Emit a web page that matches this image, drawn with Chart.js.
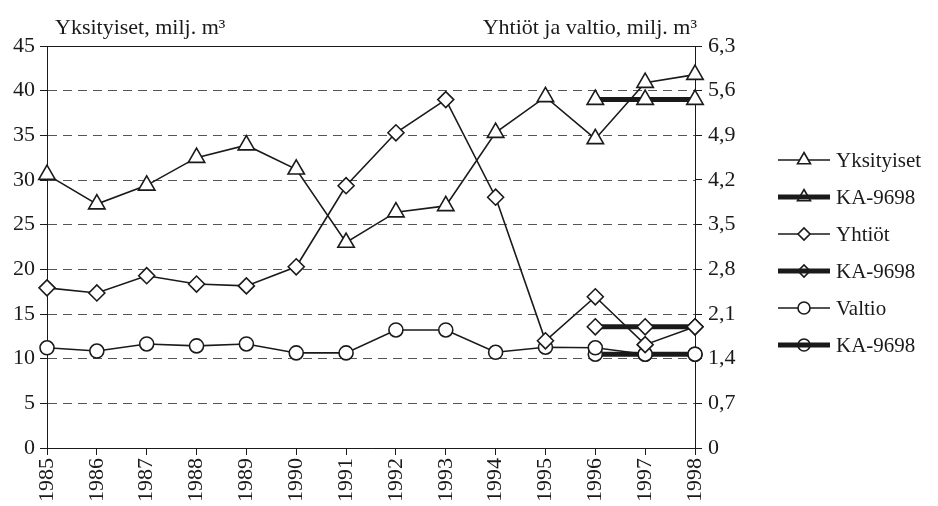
<!DOCTYPE html>
<html>
<head>
<meta charset="utf-8">
<script src="https://cdn.jsdelivr.net/npm/chart.js@4.4.0/dist/chart.umd.min.js"></script>
<style>
  html, body { margin: 0; padding: 0; background: #fff; }
  #wrap { width: 938px; height: 506px; }
</style>
</head>
<body>
<div id="wrap"><canvas id="myChart"></canvas></div>
<script>
// data
const years = ['1985','1986','1987','1988','1989','1990','1991','1992','1993','1994','1995','1996','1997','1998'];
const yksityiset = [30.6, 27.3, 29.4, 32.5, 33.9, 31.2, 23.0, 26.4, 27.1, 35.3, 39.3, 34.6, 40.9, 41.8];
const yksityisetKA = [null, null, null, null, null, null, null, null, null, null, null, 39.0, 39.0, 39.0];
const yhtiot = [2.51, 2.43, 2.70, 2.57, 2.54, 2.84, 4.11, 4.94, 5.46, 3.93, 1.68, 2.37, 1.62, 1.90];
const yhtiotKA = [null, null, null, null, null, null, null, null, null, null, null, 1.90, 1.90, 1.90];
const valtio = [1.57, 1.52, 1.63, 1.60, 1.63, 1.49, 1.49, 1.85, 1.85, 1.50, 1.58, 1.57, 1.47, 1.47];
const valtioKA = [null, null, null, null, null, null, null, null, null, null, null, 1.47, 1.47, 1.47];
const leftTicks = [0, 5, 10, 15, 20, 25, 30, 35, 40, 45];
const rightTicks = [0, 0.7, 1.4, 2.1, 2.8, 3.5, 4.2, 4.9, 5.6, 6.3];

const ink = '#1a1a1a';
const fontFam = '"Liberation Serif", "DejaVu Serif", serif';

function ds(label, data, axis, style, thick, radius) {
    return {
        label: label,
        data: data,
        yAxisID: axis,
        borderColor: ink,
        backgroundColor: '#fff',
        borderWidth: thick ? 5 : 1.6,
        pointStyle: style,
        pointRadius: radius,
        pointHoverRadius: radius,
        pointBorderWidth: 1.6,
        pointBorderColor: ink,
        pointBackgroundColor: '#fff',
        tension: 0,
        spanGaps: false,
        fill: false,
        _thick: thick
    };
}

const datasets = [
    ds('Yksityiset', yksityiset, 'y', 'triangle', false, 9.5),
    ds('KA-9698', yksityisetKA, 'y', 'triangle', true, 9.5),
    ds('Yhtiöt', yhtiot, 'y2', 'rectRot', false, 8),
    ds('KA-9698', yhtiotKA, 'y2', 'rectRot', true, 8),
    ds('Valtio', valtio, 'y2', 'circle', false, 7),
    ds('KA-9698', valtioKA, 'y2', 'circle', true, 7)
];

// axis titles on top, solid top frame line, and the line+marker legend
const extras = {
    id: 'extras',
    beforeDatasetsDraw(chart) {
        const a = chart.chartArea, ctx = chart.ctx;
        ctx.save();
        ctx.strokeStyle = ink;
        ctx.lineWidth = 1;
        ctx.beginPath(); ctx.moveTo(a.left, a.top + 0.5); ctx.lineTo(a.right, a.top + 0.5); ctx.stroke();
        ctx.restore();
    },
    afterDraw(chart) {
        const a = chart.chartArea, ctx = chart.ctx;
        ctx.save();
        ctx.fillStyle = ink;
        ctx.font = '22px ' + fontFam;
        ctx.textBaseline = 'alphabetic';
        ctx.textAlign = 'left';
        ctx.fillText('Yksityiset, milj. m³', 55, 34);
        ctx.textAlign = 'right';
        ctx.fillText('Yhtiöt ja valtio, milj. m³', a.right + 2, 34);

        // legend
        const x0 = 778, x1 = 830, xm = 804;
        ctx.font = '21px ' + fontFam;
        ctx.textAlign = 'left';
        ctx.textBaseline = 'middle';
        chart.data.datasets.forEach((d, i) => {
            const y = 160 + i * 37;
            ctx.strokeStyle = ink;
            ctx.lineWidth = 1.6;
            ctx.beginPath(); ctx.moveTo(x0, y); ctx.lineTo(x1, y); ctx.stroke();
            ctx.fillStyle = '#fff';
            Chart.helpers.drawPoint(ctx, {
                pointStyle: d.pointStyle,
                radius: d.pointStyle == 'triangle' ? 7.5 : 6,
                borderWidth: 1.6,
                rotation: 0
            }, xm, y);
            if (d._thick) {
                ctx.lineWidth = 5;
                ctx.beginPath(); ctx.moveTo(x0, y); ctx.lineTo(x1, y); ctx.stroke();
            }
            ctx.fillStyle = ink;
            ctx.fillText(d.label, 836, y + 1);
        });
        ctx.restore();
    }
};

const ctx = document.getElementById('myChart').getContext('2d');
const chart = new Chart(ctx, {
    type: 'line',
    data: { labels: years, datasets: datasets },
    plugins: [extras],
    options: {
        responsive: true,
        maintainAspectRatio: false,
        animation: false,
        layout: { padding: { top: 46, right: 193, left: 0, bottom: 0 } },
        plugins: {
            tooltip: { enabled: false },
            legend: { display: false }
        },
        scales: {
            x: {
                offset: false,
                grid: { drawOnChartArea: false, drawTicks: true, tickLength: 7, color: ink, tickColor: ink },
                border: { display: true, color: ink, width: 1 },
                ticks: {
                    color: ink,
                    font: { family: fontFam, size: 22 },
                    minRotation: 90, maxRotation: 90,
                    padding: 3,
                    autoSkip: false
                },
                afterFit: (s) => { s.height = 58; }
            },
            y: {
                position: 'left',
                min: 0, max: 45,
                afterBuildTicks: (s) => { s.ticks = leftTicks.map(v => ({ value: v })); },
                grid: { color: '#555', lineWidth: 1, tickLength: 7, tickColor: ink },
                border: { display: true, color: ink, width: 1, dash: [9, 6] },
                ticks: { color: ink, font: { family: fontFam, size: 22 }, padding: 5 },
                afterFit: (s) => { s.width = 47; }
            },
            y2: {
                position: 'right',
                min: 0, max: 6.3,
                afterBuildTicks: (s) => { s.ticks = rightTicks.map(v => ({ value: v })); },
                grid: { drawOnChartArea: false, tickLength: 7, tickColor: ink },
                border: { display: true, color: ink, width: 1 },
                ticks: {
                    color: ink,
                    font: { family: fontFam, size: 22 },
                    padding: 6,
                    callback: (v) => v == 0 ? '0' : v.toFixed(1).replace('.', ',')
                },
                afterFit: (s) => { s.width = 50; }
            }
        }
    }
});
</script>
</body>
</html>
